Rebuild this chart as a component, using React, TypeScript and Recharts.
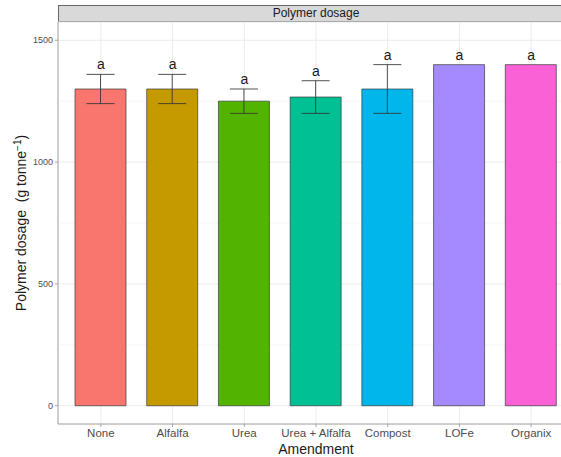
import { ComposedChart, Bar, Line, XAxis, YAxis, CartesianGrid, ErrorBar, LabelList, Label, Cell } from 'recharts'

const AMENDMENTS = ['None', 'Alfalfa', 'Urea', 'Urea + Alfalfa', 'Compost', 'LOFe', 'Organix']
const DOSAGE = [1300, 1300, 1250, 1267, 1300, 1400, 1400]
const SE = [60, 60, 50, 67, 100, 0, 0]
const LETTERS = ['a', 'a', 'a', 'a', 'a', 'a', 'a']
const Y_TICKS = [0, 500, 1000, 1500]
const Y_MINOR = [250, 750, 1250]

const COLORS = ['#F8766D', '#C49A00', '#53B400', '#00C094', '#00B6EB', '#A58AFF', '#FB61D7']
const FONT = '"Liberation Sans", Arial, sans-serif'

const data = AMENDMENTS.map((a, i) => ({
  amendment: a,
  dosage: DOSAGE[i],
  se: SE[i],
  top: DOSAGE[i] + SE[i],
  letter: LETTERS[i],
}))

const YTitle = () => (
  <text transform="translate(26,223) rotate(-90)" textAnchor="middle" fontSize={14} fill="#1a1a1a" fontFamily={FONT}>
    {'Polymer dosage\u00a0 (g tonne'}
    <tspan dy={-5} fontSize={10}>−1</tspan>
    <tspan dy={5}>)</tspan>
  </text>
)

export default function App() {
  return (
    <div style={{ position: 'absolute', left: 0, top: 0, width: 561, height: 457, overflow: 'hidden', background: '#fff', fontFamily: FONT }}>
      <div style={{
        position: 'absolute', left: 58, top: 5, width: 516, height: 17, background: '#D9D9D9',
        border: '1px solid #666', boxSizing: 'border-box', textAlign: 'center', fontSize: 12,
        lineHeight: '15px', color: '#1a1a1a',
      }}>Polymer dosage</div>
      <ComposedChart width={580} height={457} data={data} margin={{ top: 22, right: 6, bottom: 0, left: 0 }}>
        <CartesianGrid stroke="#F4F4F4" strokeWidth={0.8} vertical={false} horizontalValues={Y_MINOR} />
        <CartesianGrid stroke="#EBEBEB" strokeWidth={1} />
        <XAxis dataKey="amendment" padding={{ left: 7, right: 7 }} height={33}
          tick={{ fontSize: 11.5, fill: '#4D4D4D', fontFamily: FONT }} tickSize={3} tickMargin={2}
          axisLine={{ stroke: '#A6A6A6' }} tickLine={{ stroke: '#A6A6A6' }} interval={0}>
          <Label value="Amendment" position="insideBottom" offset={3} fontSize={14} fill="#1a1a1a" fontFamily={FONT} />
        </XAxis>
        <YAxis type="number" domain={[-75, 1575]} ticks={Y_TICKS} allowDataOverflow width={58}
          tick={{ fontSize: 9, fill: '#4D4D4D', fontFamily: FONT }} tickSize={3} tickMargin={2}
          axisLine={{ stroke: '#A6A6A6' }} tickLine={{ stroke: '#A6A6A6' }}>
          <Label content={<YTitle />} />
        </YAxis>
        <Bar dataKey="dosage" barSize={51} stroke="#3a3a3a" strokeWidth={0.7} isAnimationActive={false}>
          {data.map((_, i) => <Cell key={i} fill={COLORS[i]} />)}
          <ErrorBar dataKey="se" width={14} stroke="#333" strokeWidth={1} strokeOpacity={0.85} />
        </Bar>
        <Line dataKey="top" stroke="none" dot={false} activeDot={false} isAnimationActive={false} legendType="none">
          <LabelList dataKey="letter" position="top" offset={5} fontSize={14} fill="#1a1a1a" fontFamily={FONT} />
        </Line>
      </ComposedChart>
    </div>
  )
}
